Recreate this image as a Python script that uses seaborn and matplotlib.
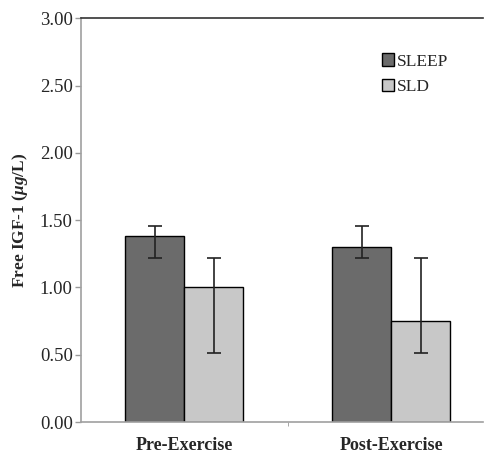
import numpy as np
import pandas as pd
import matplotlib
matplotlib.use("Agg")
import matplotlib.pyplot as plt
import seaborn as sns

# values
phases = ["Pre-Exercise", "Post-Exercise"]
groups = ["SLEEP", "SLD"]
sleep_mean = [1.38, 1.30]
sleep_low = [1.22, 1.22]
sleep_high = [1.455, 1.455]
sld_mean = [1.00, 0.75]
sld_low = [0.51, 0.51]
sld_high = [1.215, 1.215]
yticks = [0.0, 0.5, 1.0, 1.5, 2.0, 2.5, 3.0]

df = pd.DataFrame({
    "phase": phases * 2,
    "group": ["SLEEP"] * 2 + ["SLD"] * 2,
    "value": sleep_mean + sld_mean,
    "low": sleep_low + sld_low,
    "high": sleep_high + sld_high,
})

sns.set_style("white")
plt.rcParams["font.family"] = ["Liberation Serif", "DejaVu Serif"]
plt.rcParams["mathtext.fontset"] = "custom"
plt.rcParams["mathtext.it"] = "Liberation Serif:italic:bold"
plt.rcParams["mathtext.rm"] = "Liberation Serif:bold"

fig = plt.figure(figsize=(4.91, 4.55), dpi=100)
ax = fig.add_axes([0.165, 0.0725, 0.819, 0.8875])

palette = {"SLEEP": "#6b6b6b", "SLD": "#c8c8c8"}
sns.barplot(data=df, x="phase", y="value", hue="group", order=phases,
            hue_order=groups, palette=palette, width=0.57, errorbar=None,
            edgecolor="black", linewidth=1.0, saturation=1, ax=ax)

# asymmetric error bars at bar centres
for cont, g in zip(ax.containers, groups):
    sub = df[df.group == g].set_index("phase").loc[phases]
    xs = [p.get_x() + p.get_width() / 2 for p in cont.patches]
    yerr = np.array([sub.value - sub.low, sub.high - sub.value])
    ax.errorbar(xs, sub.value, yerr=yerr, fmt="none", ecolor="#222222",
                elinewidth=1.2, capsize=5, capthick=1.2, zorder=5)

ax.set_ylim(0, 3.0)
ax.set_xlim(-0.5, 1.445)
ax.set_yticks(yticks)
ax.set_yticklabels([f"{t:.2f}" for t in yticks], fontsize=13.5)
ax.tick_params(axis="y", direction="out", length=4, color="#999999",
               width=1, left=True, pad=2)
ax.set_xticks([0, 1])
ax.set_xticklabels(phases, fontsize=13, fontweight="bold")
ax.tick_params(axis="x", length=0, pad=11)
ax.set_xticks([0.5], minor=True)
ax.tick_params(axis="x", which="minor", direction="out", length=3,
               color="#999999", bottom=True)

ax.set_xlabel("")
ax.set_ylabel(r"Free IGF-1 ($\mathit{\mu g}$/L)", fontsize=12.5,
              fontweight="bold", labelpad=7)

for s in ["left", "bottom"]:
    ax.spines[s].set_color("#a0a0a0")
    ax.spines[s].set_linewidth(1.2)
ax.spines["right"].set_visible(False)
ax.spines["top"].set_color("#333333")
ax.spines["top"].set_linewidth(1.2)

leg = ax.legend(loc="upper left", bbox_to_anchor=(0.73, 0.93), frameon=False,
                fontsize=12.5, handlelength=0.7, handleheight=0.7,
                handletextpad=0.2, labelspacing=0.55, borderaxespad=0)

fig.savefig("out.png", dpi=100)
